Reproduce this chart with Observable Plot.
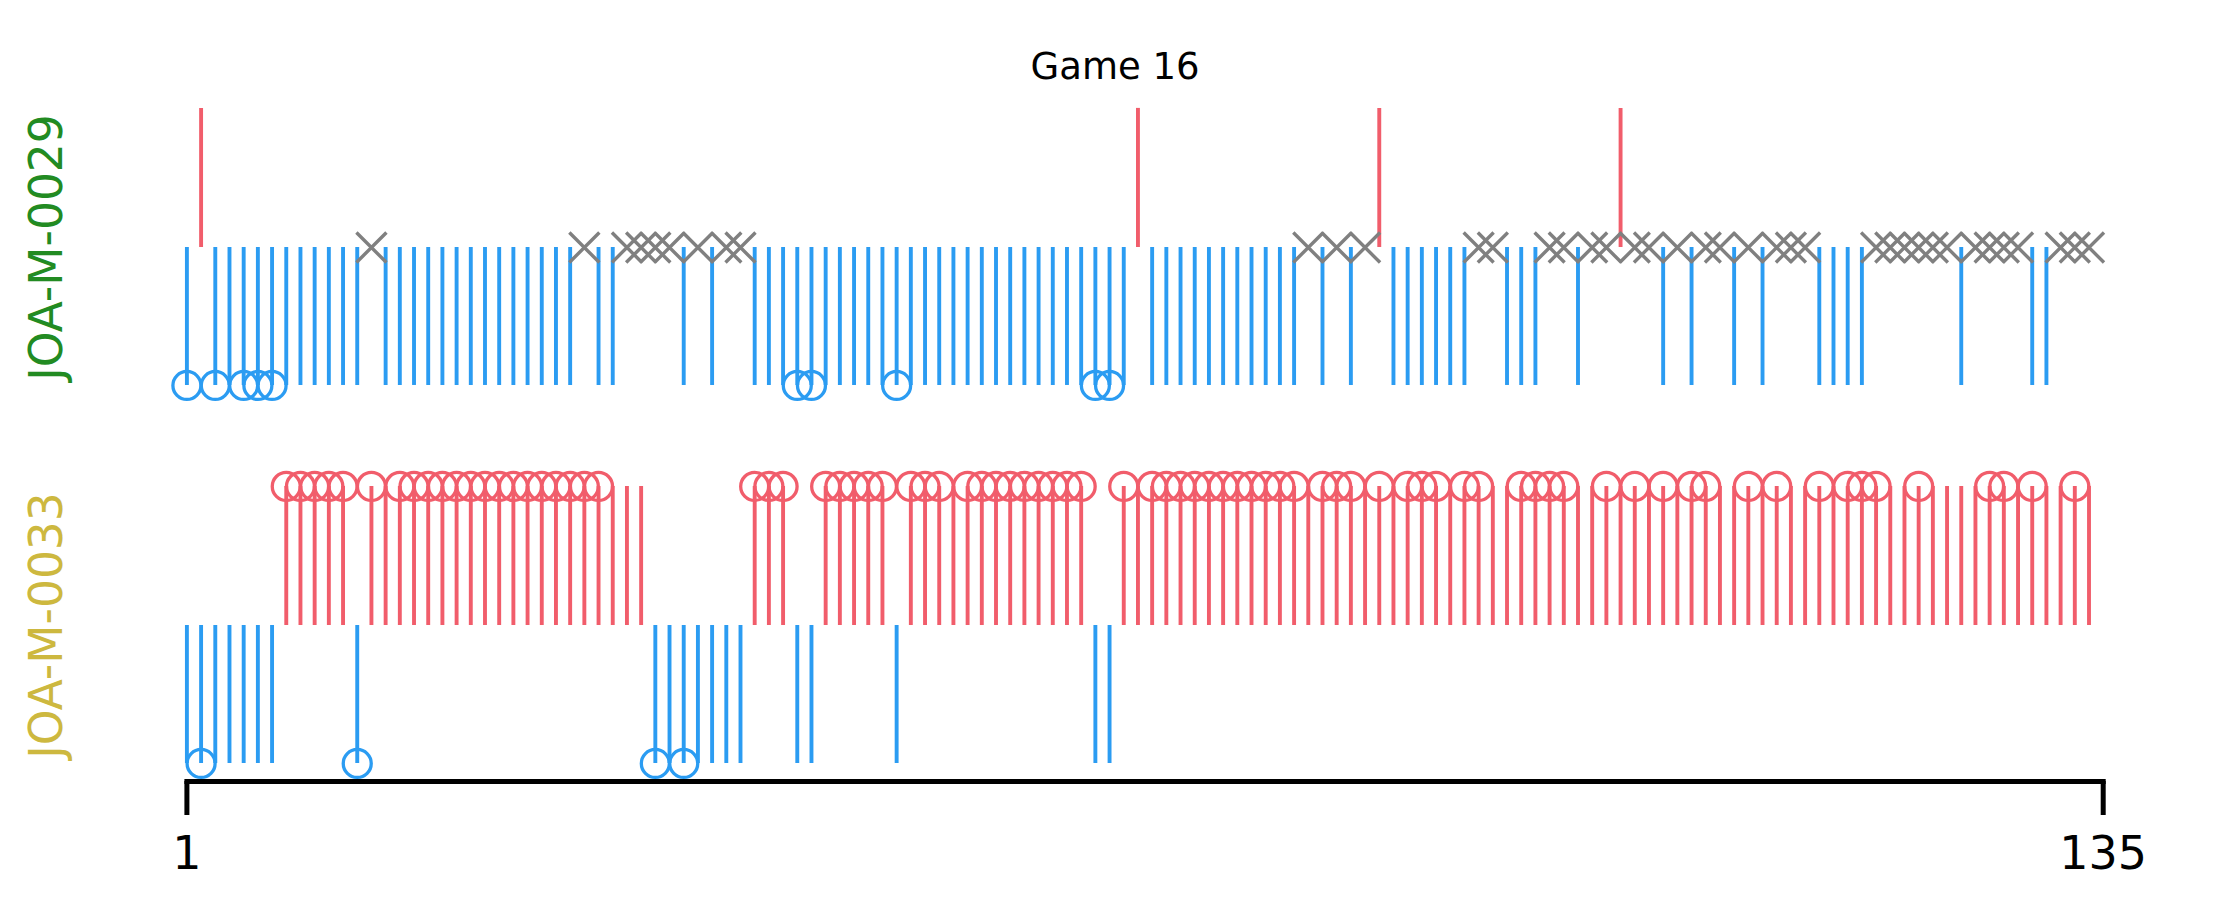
<!DOCTYPE html>
<html><head><meta charset="utf-8">
<script src="https://cdn.jsdelivr.net/npm/d3@7"></script>
<script src="https://cdn.jsdelivr.net/npm/@observablehq/plot@0.6"></script>
<style>body{margin:0;background:#fff} svg{display:block}</style>
</head><body><div id="chart"></div>
<script>
// ---- data ----
const title = "Game 16";
const players = ["JOA-M-0029", "JOA-M-0033"];
const playerColors = ["#228b22", "#cdb83f"];
// one code per round (rounds 1..135, grouped by 10):
// b = blue line down, B = blue line down with circle,
// r = red line up,    R = red line up with circle,
// x = grey cross
const topCodes = [
  "BrBbBBBbbb", "bbbxbbbbbb", "bbbbbbbbxb", "bxxxxbxbxx", "bbbBBbbbbb",
  "Bbbbbbbbbb", "bbbbBBbrbb", "bbbbbbbbbx", "bxbxrbbbbb", "bxxbbbxxbx",
  "xrxxbxbxxb", "xbxxxbbbbx", "xxxxxbxxxx", "bbxxx"
];
const bottomCodes = [
  "bBbbbbbRRR", "RRBRrRRRRR", "RRRRRRRRRR", "rrrBbBbbbb", "RRRbbRRRRR",
  "bRRRrRRRRR", "RRRRbbRrRR", "RRRRRRRRRr", "RRRrRrRRRr", "RRrrRRRRrr",
  "RrRrRrRRrr", "RrRrrRrRRR", "rrRrrrrRRr", "RrrRr"
];
const tickValues = [0, 135];
const tickLabels = ["1", "135"];

// ---- build table ----
const BLUE = "#2b9cf2", RED = "#f15d6b", GRAY = "#808080";
const UP = 0.368, DOWN = 0.365;
const rows = [topCodes.join(""), bottomCodes.join("")];
const records = [];
rows.forEach((codes, i) => {
  const level = players.length - 1 - i;
  [...codes].forEach((c, k) => {
    const kind = c.toLowerCase();
    records.push({
      player: players[i], level, x: k, round: k + 1, kind,
      circled: c === "B" || c === "R"
    });
  });
});
const labels = players.map((p, i) => ({p, level: players.length - 1 - i, color: playerColors[i]}));

const chart = Plot.plot({
  width: 2214,
  height: 909,
  marginLeft: 186.4,
  marginRight: 111.3,
  marginTop: 0,
  marginBottom: 128,
  style: {fontFamily: "DejaVu Sans", background: "#fff"},
  x: {domain: [0, 135]},
  y: {domain: [0, 1], range: [625, 247], axis: null},
  marks: [
    Plot.ruleX(records.filter(d => d.kind === "b"), {
      x: "x", y1: "level", y2: d => d.level - DOWN, stroke: BLUE, strokeWidth: 3.9
    }),
    Plot.ruleX(records.filter(d => d.kind === "r"), {
      x: "x", y1: "level", y2: d => d.level + UP, stroke: RED, strokeWidth: 3.9
    }),
    Plot.dot(records.filter(d => d.kind === "x"), {
      x: "x", y: "level", symbol: "times", r: 13.7, stroke: GRAY, strokeWidth: 3.4
    }),
    Plot.dot(records.filter(d => d.circled), {
      x: "x", y: d => d.kind === "b" ? d.level - DOWN : d.level + UP,
      r: 14, fill: "none", stroke: d => d.kind === "b" ? BLUE : RED, strokeWidth: 3.3
    }),
    Plot.frame({anchor: "bottom", stroke: "black", strokeWidth: 5}),
    Plot.axisX({
      ticks: tickValues,
      tickFormat: d => tickLabels[tickValues.indexOf(d)],
      tickSize: 34, tickPadding: 21, strokeWidth: 5, fontSize: 46,
      label: null, fill: "black", stroke: "black"
    }),
    Plot.text(labels, {
      frameAnchor: "left", y: "level", text: "p", rotate: -90, dx: -139.5,
      fill: "color", fontSize: 45.5, textAnchor: "middle"
    }),
    Plot.text([title], {frameAnchor: "top", dy: 52, dx: -30, fontSize: 37, fill: "black"})
  ]
});
document.getElementById("chart").appendChild(chart);
</script>
</body></html>
